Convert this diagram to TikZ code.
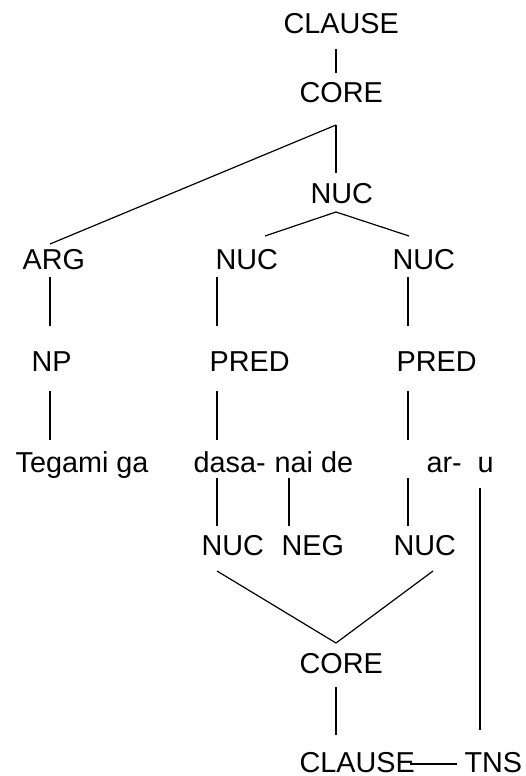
\documentclass[tikz,border=0pt]{standalone}
\usepackage{fontspec}
\setmainfont{Liberation Sans}
\usepackage{tikz}

\begin{document}
\begin{tikzpicture}[x=0.5pt,y=-0.5pt,
    lbl/.style={anchor=base west,inner sep=0pt,font=\fontsize{14.4}{17}\selectfont},
    every path/.style={line width=0.6pt}]

    \useasboundingbox (0,0) rectangle (525,776);

    % upper tree
    \node[lbl] (clauseT) at (283,33) {CLAUSE};
    \node[lbl] (coreT) at (299,102) {CORE};
    \node[lbl] (nucT) at (310,203) {NUC};
    \node[lbl] (arg) at (22,269) {ARG};
    \node[lbl] (nucA) at (215,269) {NUC};
    \node[lbl] (nucB) at (392,269) {NUC};
    \node[lbl] (np) at (31,371) {NP};
    \node[lbl] (predA) at (209,371) {PRED};
    \node[lbl] (predB) at (396,371) {PRED};

    % words
    \node[lbl] (tegami) at (15,472) {Tegami ga};
    \node[lbl] (dasa) at (193,472) {dasa-};
    \node[lbl] (nai) at (274,472) {nai de};
    \node[lbl] (ar) at (426,472) {ar-};
    \node[lbl] (u) at (477,472) {u};

    % lower tree
    \node[lbl] (nucC) at (201,555) {NUC};
    \node[lbl] (neg) at (281,555) {NEG};
    \node[lbl] (nucD) at (393,555) {NUC};
    \node[lbl] (coreB) at (299,673) {CORE};
    \node[lbl] (clauseB) at (299,772) {CLAUSE};
    \node[lbl] (tns) at (464,772) {TNS};

    \draw ([shift={(53,16)}]clauseT.base west) to ([shift={(37,-29)}]coreT.base west);
    \draw ([shift={(37,23)}]coreT.base west) to ([shift={(28,-25)}]arg.base west);
    \draw ([shift={(37,23)}]coreT.base west) to ([shift={(26,-30)}]nucT.base west);
    \draw ([shift={(26,9)}]nucT.base west) to ([shift={(50,-33)}]nucA.base west);
    \draw ([shift={(26,9)}]nucT.base west) to ([shift={(17,-33)}]nucB.base west);

    \draw ([shift={(28,8)}]arg.base west) to ([shift={(19,-45)}]np.base west);
    \draw ([shift={(2,8)}]nucA.base west) to ([shift={(8,-45)}]predA.base west);
    \draw ([shift={(16,8)}]nucB.base west) to ([shift={(12,-45)}]predB.base west);
    \draw ([shift={(19,20)}]np.base west) to ([shift={(35,-32)}]tegami.base west);
    \draw ([shift={(8,20)}]predA.base west) to ([shift={(24,-32)}]dasa.base west);
    \draw ([shift={(12,20)}]predB.base west) to ([shift={(-18,-32)}]ar.base west);

    \draw ([shift={(24,6)}]dasa.base west) to ([shift={(16,-29)}]nucC.base west);
    \draw ([shift={(15,6)}]nai.base west) to ([shift={(8,-29)}]neg.base west);
    \draw ([shift={(-18,6)}]ar.base west) to ([shift={(15,-29)}]nucD.base west);
    \draw ([shift={(3,16)}]u.base west) to ([shift={(16,-42)}]tns.base west);

    \draw ([shift={(16,16)}]nucC.base west) to ([shift={(37,-30)}]coreB.base west);
    \draw ([shift={(40,16)}]nucD.base west) to ([shift={(37,-30)}]coreB.base west);
    \draw ([shift={(37,14)}]coreB.base west) to ([shift={(37,-37)}]clauseB.base west);
    \draw ([shift={(111,-8)}]clauseB.base west) to ([shift={(-7,-8)}]tns.base west);

\end{tikzpicture}
\end{document}
